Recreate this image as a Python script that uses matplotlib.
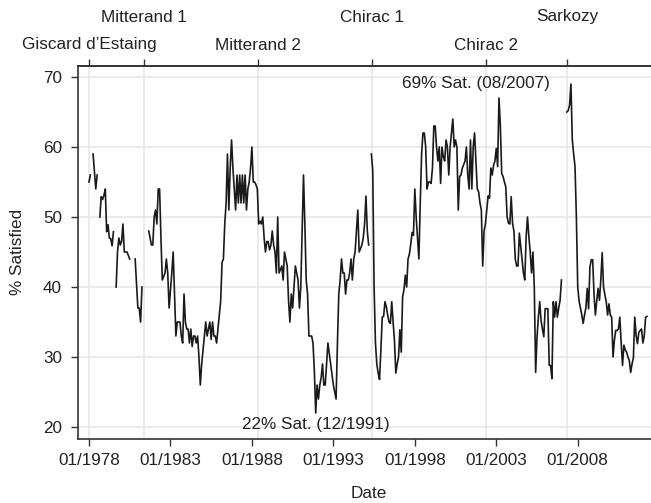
import numpy as np
import matplotlib
matplotlib.use("Agg")
import matplotlib.pyplot as plt

nan = np.nan

# ---- data: monthly % satisfied, one list per presidency (NaN = missing month)
giscard_start = "1978-01"
giscard = [55, 56, nan, 59, 56.5, 54, 56, nan, 50, 52.9, 52.5, 53.1, 54, 47.9, 48.9,
           47, 46.9, 45.9, 47.9, nan, 40, 45, 47, 46, 46.5, 49, 45, 45, 45, 44.5, 44,
           nan, nan, nan, 44, 40.5, 37, 37, 35, 40]

mitterand1_start = "1981-09"
mitterand1 = [48, 47, 46, 46, 50, 51, 49, 54, 54, 47, 41, 41.5, 42, 44, 42, 37, 39.5,
              42, 45, 39, 33, 35, 35, 35, 33, 32, 39, 35, 34, 34, 32, 34, 31.5, 33, 33,
              32, 33, 30, 26, 29, 31, 33, 35, 33, 34, 35, 32.5, 35, 33, 33, 32, 34, 36,
              38, 43.5, 44, 49, 52, 59, 51, 57, 61, 57, 54, 51, 56, 52, 56, 52, 56, 52,
              56, 51, 54, 55, 57, 60, 55, 55, 54.6, 54]

mitterand2_start = "1988-06"
mitterand2 = [49, 49.4, 49, 50, 47, 45, 46.5, 46.5, 45.3, 46, 48, 46, 45, 42, 50, 42,
              42.5, 43, 41, 45, 44, 43, 38, 35, 39, 37, 40, 43, 42, 41, 37, 40, 48, 56,
              49, 41, 39, 33, 33, 33, 32, 28, 22, 26, 24, 26, 27, 29, 26, 26, 29, 32,
              30.5, 29, 27.5, 26, 25, 24, 32, 39, 41, 44, 42, 42, 39, 41, 41, 42, 44,
              41, 44, 45, 48, 51, 45, 45.5, 46, 47, 49, 53, 48, 46]

chirac1_start = "1995-05"
chirac1 = [59, 56.7, 40, 32, 29, 27.7, 26.8, 31, 35.7, 35.8, 37.9, 37.2, 36, 35, 34.8,
           37.9, 35, 32.4, 27.7, 29, 30, 33.9, 30.7, 38.6, 39.6, 41.7, 40, 44, 44.7,
           46.1, 47.8, 47.4, 54, 50, 47, 44, 52, 59, 62, 62, 60, 54, 55, 55, 54.8, 57,
           63, 63, 60, 58, 60, 54.8, 60, 58.6, 58, 61, 60, 56, 60, 62, 64, 60, 61, 60,
           51, 55.8, 56, 57, 57.5, 58, 60, 56, 54, 61, 54, 60, 62, 58, 54, 53.6, 52,
           51, 43, 48, 49]

chirac2_start = "2002-06"
chirac2 = [51, 53, 52.7, 57, 56, 57.4, 58, 59.8, 57.2, 67, 63, 56.2, 55.8, 55, 54.3,
           50, 49.1, 49, 52.9, 49.1, 48, 44, 43, 43, 47.7, 45.8, 44, 42, 41, 47.2, 50,
           47.2, 45, 42, 45, 40, 27.8, 32.8, 35.7, 37.9, 35.2, 34, 32.9, 36.9, 36.9,
           36.9, 28.8, 28.8, 26.9, 37.9, 35.7, 37.9, 35.7, 37, 38.1, 41]

sarkozy_start = "2007-05"
sarkozy = [65, 65.2, 66, 69, 61, 59, 57.2, 50, 40, 38, 37, 36, 34.8, 36, 37, 39.8, 36.9,
           42.9, 43.9, 43.9, 39, 36, 38, 39.8, 38.1, 41, 44.9, 40, 38.9, 37.9, 36, 37.6,
           36, 35.7, 30, 32.4, 33.8, 33.8, 34, 35.7, 32, 28.8, 31.7, 31, 30.7, 30, 29.5,
           27.8, 29, 29.9, 35.7, 33.1, 31.9, 33.5, 33.8, 34, 32, 33, 35.7, 35.8]

segments = [(giscard_start, giscard), (mitterand1_start, mitterand1),
            (mitterand2_start, mitterand2), (chirac1_start, chirac1),
            (chirac2_start, chirac2), (sarkozy_start, sarkozy)]

terms = ["Giscard d\u2019Estaing", "Mitterand 1", "Mitterand 2", "Chirac 1", "Chirac 2", "Sarkozy"]
term_starts = [1978.0, 1981.38, 1988.37, 1995.37, 2002.37, 2007.37]

xtick_years = [1978, 1983, 1988, 1993, 1998, 2003, 2008]
xtick_labels = ["01/1978", "01/1983", "01/1988", "01/1993", "01/1998", "01/2003", "01/2008"]
yticks = [20, 30, 40, 50, 60, 70]

# ---- build monthly series
def month_index(s):
    y, m = s.split("-")
    return (int(y) - 1978) * 12 + int(m) - 1

n = max(month_index(s) + len(v) for s, v in segments) + 1
vals = np.full(n, nan)
for s, v in segments:
    i = month_index(s)
    vals[i:i + len(v)] = v
x = 1978 + np.arange(n) / 12.0

plt.rcParams['font.family'] = ['Liberation Sans', 'DejaVu Sans']
FS = 12.3
TXT = '#222222'
SP = '#333333'

W, H = 651, 503
fig = plt.figure(figsize=(W / 100, H / 100), dpi=100)
L, R, T, B = 78, 660, 66, 439
ax = fig.add_axes([L / W, (H - B) / H, (R - L) / W, (B - T) / H])

ax.plot(x, vals, color='#1a1a1a', lw=1.2, zorder=3)

ax.set_xlim(1977.325, 2013.05)
ax.set_ylim(18.29, 71.57)

ax.set_yticks(yticks)
ax.set_xticks(xtick_years)
ax.set_xticklabels(xtick_labels)
ax.grid(axis='y', color='#e6e6e6', lw=1.1, zorder=0)
for t in term_starts:
    ax.axvline(t, color='#e6e6e6', lw=1.1, zorder=0)

for s in ['left', 'bottom', 'top']:
    ax.spines[s].set_color(SP)
    ax.spines[s].set_linewidth(1.2)
ax.spines['right'].set_visible(False)

ax.tick_params(axis='both', direction='out', length=5, width=1, color=SP,
               labelsize=FS, labelcolor=TXT)
ax.tick_params(axis='x', pad=5)
ax.tick_params(axis='y', pad=6.5)

sec = ax.secondary_xaxis('top')
sec.set_xticks(term_starts)
sec.set_xticklabels([''] * len(term_starts))
sec.tick_params(direction='out', length=5, width=1, color=SP)
sec.spines['top'].set_color(SP)
sec.spines['top'].set_linewidth(1.2)

for i, (name, t) in enumerate(zip(terms, term_starts)):
    ypx = 45 if i % 2 == 0 else 17
    ax.text(t, (H - ypx) / H, name, transform=ax.get_xaxis_transform() if False else
            __import__('matplotlib').transforms.blended_transform_factory(ax.transData, fig.transFigure),
            ha='center', va='center', fontsize=FS, color=TXT)

fig.text(18 / W, (H - 252) / H, '% Satisfied', rotation=90, ha='center', va='center',
         fontsize=FS, color=TXT)
fig.text(369 / W, (H - 493) / H, 'Date', ha='center', va='center', fontsize=FS, color=TXT)

ax.text(1978 + 167 / 12, 20.4, '22% Sat. (12/1991)', ha='center', va='center',
        fontsize=FS, color=TXT, zorder=4)
ax.text(2006.28, 69.1, '69% Sat. (08/2007)', ha='right', va='center',
        fontsize=FS, color=TXT, zorder=4)

fig.savefig('out.png', dpi=100)
